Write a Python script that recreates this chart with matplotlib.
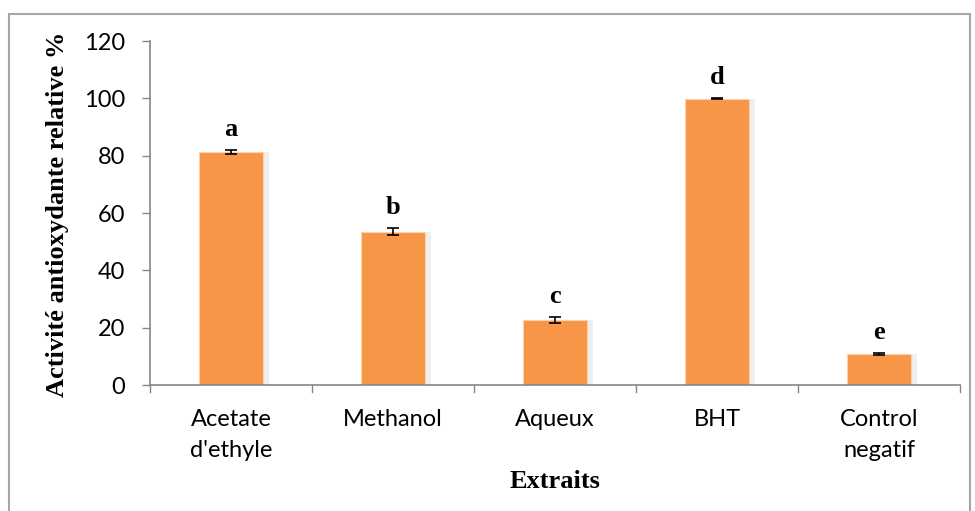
import matplotlib
matplotlib.use("Agg")
import matplotlib.pyplot as plt
from matplotlib.patches import Rectangle

categories = ["Acetate\nd'ethyle", "Methanol", "Aqueux", "BHT", "Control\nnegatif"]
values = [81.3, 53.5, 22.6, 99.8, 10.9]
errors = [0.6, 1.2, 1.0, 0.2, 0.3]
letters = ["a", "b", "c", "d", "e"]
yticks = [0, 20, 40, 60, 80, 100, 120]

bar_color = "#F79646"
axis_color = "#868686"

fig = plt.figure(figsize=(9.75, 5.11), dpi=100)
ax = fig.add_axes([150/975, 1 - 385/511, 810/975, 344/511])

x = list(range(len(categories)))
# soft shadow
ax.bar([i + 0.025 for i in x], values, width=0.42, color="#d9d9d9", alpha=0.4, zorder=1)
ax.bar(x, values, width=0.40, color=bar_color, edgecolor="#fbd2b0", linewidth=0.8, zorder=2)
ax.errorbar(x, values, yerr=errors, fmt="none", ecolor="black", elinewidth=1.2,
            capsize=4, capthick=1.2, zorder=3)
for i, (v, e, l) in enumerate(zip(values, errors, letters)):
    ax.text(i, v + e + 3.2, l, ha="center", va="bottom", fontsize=19,
            fontweight="bold", family="Liberation Serif")

ax.set_xlim(-0.5, len(categories) - 0.5)
ax.set_ylim(0, 120)
ax.set_yticks(yticks)
ax.set_yticklabels([str(t) for t in yticks], fontsize=17, family="Lato")
ax.set_xticks(x)
ax.set_xticklabels(categories, fontsize=17, family="Lato", linespacing=1.6)
ax.tick_params(axis="x", length=0, pad=17)
ax.tick_params(axis="y", length=6, color=axis_color, width=1, pad=12)
# x boundary ticks
for b in [i - 0.5 for i in range(len(categories) + 1)]:
    ax.plot([b, b], [0, -2.5], color=axis_color, lw=1, clip_on=False, zorder=4)

for s in ["top", "right"]:
    ax.spines[s].set_visible(False)
for s in ["left", "bottom"]:
    ax.spines[s].set_color(axis_color)
    ax.spines[s].set_linewidth(1.2)

fig.text(58/975, 1 - 214/511, "Activité antioxydante relative %", rotation=90,
         ha="center", va="center", fontsize=19, fontweight="bold",
         family="Liberation Serif")
fig.text(555/975, 1 - 482/511, "Extraits", ha="center", va="center", fontsize=19,
         fontweight="bold", family="Liberation Serif")

fig.patches.append(Rectangle((9/975, -0.02), (970 - 9)/975, (1 - 14/511) + 0.02,
                             transform=fig.transFigure, fill=False,
                             edgecolor="#a6a6a6", linewidth=1.5))

fig.savefig("out.png", dpi=100)
